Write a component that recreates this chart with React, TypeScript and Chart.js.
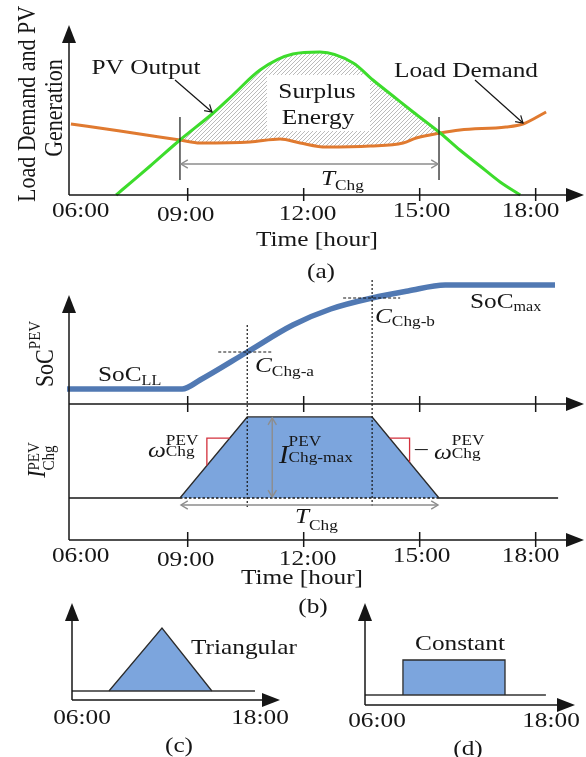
import React, { useEffect, useRef } from 'react';
import { Chart, registerables } from 'chart.js';

Chart.register(...registerables);

const W = 586;
const H = 757;
const SERIF = '"Liberation Serif", "Times New Roman", Times, serif';
const SX = 1.15;
const INK = '#161616';
const GRAY = '#8d8d8d';
const RED = '#d3303c';
const GREEN = '#3ddc2c';
const ORANGE = '#e07a30';
const STEEL = '#5179b3';
const LIGHT_BLUE = '#7ca5dd';

// ---------- data ----------
const TIME_LABELS = ['06:00', '09:00', '12:00', '15:00', '18:00'];
const TIME_HOURS = [6, 9, 12, 15, 18];

const T_CHG_START = 8.8;
const T_CHG_END = 15.5;
const C_CHG_A = 10.54;
const C_CHG_B = 13.77;

// (a) PV output and load demand
const PV_HOURS = [7.15, 7.3, 8.03, 8.8, 9.66, 10.17, 10.87, 11.72, 12.42, 13.28, 13.79, 14.31, 14.83, 15.53, 16.04, 16.56, 17.08, 17.6];
const PV_VALUES = [0, 5, 29, 55, 82, 100, 125, 141, 143, 132, 115, 99, 83, 62, 45, 29, 13, 0];
const LOAD_HOURS = [5.98, 7.25, 8.8, 9.32, 10.61, 11.39, 11.91, 12.58, 13.72, 14.57, 14.91, 15.53, 16.04, 17.23, 17.67, 18.27];
const LOAD_VALUES = [71, 64, 55, 52, 53, 56, 52, 48, 49, 52, 57, 62, 65, 68, 71, 83];

// (b) state of charge and charging current
const SOC_HOURS = [5.88, 8.86, 9.32, C_CHG_A, 11.72, 12.7, C_CHG_B, 14.7, 15.66, 18.5];
const SOC_VALUES = [15, 15, 24, 52, 79, 95, 106, 113, 119, 119];
const I_HOURS = [T_CHG_START, C_CHG_A, C_CHG_B, T_CHG_END];
const I_VALUES = [0, 1, 1, 0];
const I_BASE_HOURS = [5.93, T_CHG_START, T_CHG_END, 18.58];
const I_BASE_VALUES = [0, 0, 0, 0];

// (c) triangular profile
const TRI_HOURS = [8.4, 11.84, 15.08];
const TRI_VALUES = [0, 1, 0];
const TRI_BASE_HOURS = [6, 17.88];
const TRI_BASE_VALUES = [0, 0];

// (d) constant profile
const CONST_HOURS = [8.44, 8.44, 15.0, 15.0];
const CONST_VALUES = [0, 1, 1, 0];
const CONST_BASE_HOURS = [6, 17.63];
const CONST_BASE_VALUES = [0, 0];

// ---------- drawing helpers ----------
const LABEL_DX = [9, -2, 4, 2, -5];
const LABEL_DY = [0, 4, 3, 0, 0];

type Part = { t: string; s?: number; i?: boolean; dy?: number; hold?: boolean };

function fnt(size: number, italic?: boolean) {
  return `${italic ? 'italic ' : ''}${size}px ${SERIF}`;
}

function rich(ctx: CanvasRenderingContext2D, parts: Part[], x: number, y: number, align = 'left', rot = 0) {
  ctx.save();
  ctx.translate(x, y);
  ctx.scale(SX, 1);
  if (rot) ctx.rotate(rot);
  ctx.fillStyle = INK;
  ctx.textAlign = 'left';
  ctx.textBaseline = 'alphabetic';
  const xs: number[] = [];
  let cx = 0;
  let holdX = -1;
  let holdW = 0;
  for (const p of parts) {
    ctx.font = fnt(p.s ?? 22, p.i);
    const w = ctx.measureText(p.t).width;
    if (holdX >= 0) {
      xs.push(holdX);
      cx = holdX + Math.max(holdW, w);
      holdX = -1;
    } else {
      xs.push(cx);
      if (p.hold) {
        holdX = cx;
        holdW = w;
      } else cx += w;
    }
  }
  const off = align === 'center' ? -cx / 2 : align === 'right' ? -cx : 0;
  parts.forEach((p, k) => {
    ctx.font = fnt(p.s ?? 22, p.i);
    ctx.fillText(p.t, xs[k] + off, p.dy ?? 0);
  });
  ctx.restore();
}

function text(ctx: CanvasRenderingContext2D, t: string, x: number, y: number, align = 'center', size = 22) {
  rich(ctx, [{ t, s: size }], x, y, align);
}

function seg(ctx: CanvasRenderingContext2D, x1: number, y1: number, x2: number, y2: number) {
  ctx.beginPath();
  ctx.moveTo(x1, y1);
  ctx.lineTo(x2, y2);
  ctx.stroke();
}

function solidHead(ctx: CanvasRenderingContext2D, tx: number, ty: number, dir: 'up' | 'right', len = 18, half = 7) {
  ctx.beginPath();
  if (dir === 'up') {
    ctx.moveTo(tx, ty);
    ctx.lineTo(tx - half, ty + len);
    ctx.lineTo(tx + half, ty + len);
  } else {
    ctx.moveTo(tx, ty);
    ctx.lineTo(tx - len, ty - half);
    ctx.lineTo(tx - len, ty + half);
  }
  ctx.closePath();
  ctx.fill();
}

function openHead(ctx: CanvasRenderingContext2D, tx: number, ty: number, ang: number, size = 8, spread = 0.55) {
  ctx.beginPath();
  ctx.moveTo(tx - size * Math.cos(ang - spread), ty - size * Math.sin(ang - spread));
  ctx.lineTo(tx, ty);
  ctx.lineTo(tx - size * Math.cos(ang + spread), ty - size * Math.sin(ang + spread));
  ctx.stroke();
}

function axes(ctx: CanvasRenderingContext2D, x0: number, y0: number, topY: number, rightX: number) {
  ctx.save();
  ctx.strokeStyle = INK;
  ctx.fillStyle = INK;
  ctx.lineWidth = 1.5;
  seg(ctx, x0, y0, x0, topY + 14);
  solidHead(ctx, x0, topY, 'up');
  seg(ctx, x0, y0, rightX - 14, y0);
  solidHead(ctx, rightX, y0, 'right');
  ctx.restore();
}

function tickMarks(ctx: CanvasRenderingContext2D, x: any, yy: number, up: number, down: number) {
  ctx.save();
  ctx.strokeStyle = INK;
  ctx.lineWidth = 1.5;
  TIME_HOURS.forEach((h) => {
    if (h > 6) {
      const px = x.getPixelForValue(h);
      seg(ctx, px, yy - up, px, yy + down);
    }
  });
  ctx.restore();
}

function tickLabels(ctx: CanvasRenderingContext2D, x: any, base: number) {
  TIME_LABELS.forEach((l, k) => {
    text(ctx, l, x.getPixelForValue(TIME_HOURS[k]) + LABEL_DX[k], base + LABEL_DY[k]);
  });
}

function pts(hs: number[], vs: number[]) {
  return hs.map((h, k) => ({ x: h, y: vs[k] }));
}

function build(canvas: HTMLCanvasElement, area: number[], xr: number[], yr: number[], datasets: any[], plugin: any) {
  return new Chart(canvas, {
    type: 'line',
    data: { datasets },
    options: {
      responsive: false,
      animation: false,
      devicePixelRatio: 1,
      events: [],
      layout: { padding: { left: area[0], top: area[1], right: W - area[2], bottom: H - area[3] } },
      plugins: {
        legend: { display: false },
        tooltip: { enabled: false },
        filler: { drawTime: 'beforeDatasetsDraw' },
      } as any,
      scales: {
        x: { type: 'linear', display: false, min: xr[0], max: xr[1] },
        y: { type: 'linear', display: false, min: yr[0], max: yr[1] },
      },
      elements: { point: { radius: 0 }, line: { tension: 0 } },
    },
    plugins: [plugin],
  } as any);
}

// ---------- panel plugins ----------
const pluginA = {
  id: 'panelA',
  beforeDatasetsDraw(chart: any) {
    const c = chart.ctx;
    c.save();
    c.fillStyle = '#fff';
    c.fillRect(267, 75, 103, 56);
    c.restore();
  },
  afterDatasetsDraw(chart: any) {
    const c: CanvasRenderingContext2D = chart.ctx;
    const a = chart.chartArea;
    const x = chart.scales.x;
    axes(c, a.left, a.bottom, a.top, a.right);
    tickMarks(c, x, a.bottom, 7, 6);
    const xs = x.getPixelForValue(T_CHG_START);
    const xe = x.getPixelForValue(T_CHG_END);
    c.save();
    c.strokeStyle = INK;
    c.lineWidth = 1.2;
    seg(c, xs, 117, xs, 180);
    seg(c, xe, 117, xe, 180);
    c.strokeStyle = GRAY;
    c.lineWidth = 1.4;
    seg(c, xs + 1, 164, xe - 1, 164);
    openHead(c, xs + 1, 164, Math.PI);
    openHead(c, xe - 1, 164, 0);
    c.strokeStyle = INK;
    c.lineWidth = 1.2;
    seg(c, 175, 80, 212, 112);
    openHead(c, 212, 112, Math.atan2(32, 37));
    seg(c, 475, 80, 523, 123);
    openHead(c, 523, 123, Math.atan2(43, 48));
    c.restore();

    rich(c, [{ t: 'Load Demand and PV' }], 35, 104, 'center', -Math.PI / 2);
    rich(c, [{ t: 'Generation' }], 62, 108, 'center', -Math.PI / 2);
    text(c, 'PV Output', 146, 74);
    text(c, 'Load Demand', 466, 77);
    text(c, 'Surplus', 317, 98);
    text(c, 'Energy', 318, 124);
    rich(c, [{ t: 'T', i: true }, { t: 'Chg', s: 15, dy: 5 }], 321, 185);
    tickLabels(c, x, 217);
    text(c, 'Time [hour]', 317, 246);
    text(c, '(a)', 321, 278);
  },
};

const pluginS = {
  id: 'panelS',
  afterDatasetsDraw(chart: any) {
    const c: CanvasRenderingContext2D = chart.ctx;
    const a = chart.chartArea;
    const x = chart.scales.x;
    const y = chart.scales.y;
    c.save();
    c.strokeStyle = INK;
    c.fillStyle = INK;
    c.lineWidth = 1.5;
    seg(c, a.left, a.bottom, a.right - 14, a.bottom);
    solidHead(c, a.right, a.bottom, 'right');
    c.restore();
    tickMarks(c, x, a.bottom, 8, 8);

    const ia = SOC_HOURS.indexOf(C_CHG_A);
    const ib = SOC_HOURS.indexOf(C_CHG_B);
    const ax = x.getPixelForValue(C_CHG_A);
    const ay = y.getPixelForValue(SOC_VALUES[ia]);
    const bx = x.getPixelForValue(C_CHG_B);
    const by = y.getPixelForValue(SOC_VALUES[ib]);
    c.save();
    c.strokeStyle = INK;
    c.lineWidth = 1.1;
    c.setLineDash([3, 2]);
    seg(c, ax - 29, ay, ax + 25, ay);
    seg(c, bx - 29, by, bx + 28, by);
    c.restore();

    rich(c, [{ t: 'SoC' }, { t: 'LL', s: 14, dy: 4 }], 98, 381);
    rich(c, [{ t: 'SoC' }, { t: 'max', s: 14, dy: 3 }], 470, 308);
    rich(c, [{ t: 'C', i: true }, { t: 'Chg-a', s: 15, dy: 4 }], 255, 372);
    rich(c, [{ t: 'C', i: true }, { t: 'Chg-b', s: 15, dy: 3 }], 375, 323);
    rich(c, [{ t: 'SoC' }, { t: 'PEV', s: 15, dy: -11 }], 53, 354, 'center', -Math.PI / 2);
  },
};

const pluginI = {
  id: 'panelI',
  afterDatasetsDraw(chart: any) {
    const c: CanvasRenderingContext2D = chart.ctx;
    const a = chart.chartArea;
    const x = chart.scales.x;
    const y = chart.scales.y;
    axes(c, a.left, a.bottom, 295, a.right);
    tickMarks(c, x, a.bottom, 8, 7);

    const xa = x.getPixelForValue(C_CHG_A);
    const xb = x.getPixelForValue(C_CHG_B);
    const x0 = x.getPixelForValue(T_CHG_START);
    const x1 = x.getPixelForValue(T_CHG_END);
    const y0 = y.getPixelForValue(0);
    const y1 = y.getPixelForValue(1);

    c.save();
    c.strokeStyle = INK;
    c.lineWidth = 1.2;
    c.setLineDash([2, 2]);
    seg(c, xa, 325, xa, 507);
    seg(c, xb, 280, xb, 507);
    c.setLineDash([]);

    // gray dimension arrows
    c.strokeStyle = GRAY;
    c.lineWidth = 1.4;
    const gx = xa + 25;
    seg(c, gx, y1 + 1, gx, y0 - 1);
    openHead(c, gx, y1 + 1, -Math.PI / 2);
    openHead(c, gx, y0 - 1, Math.PI / 2);
    seg(c, x0 + 1, 505, x1 - 1, 505);
    openHead(c, x0 + 1, 505, Math.PI);
    openHead(c, x1 - 1, 505, 0);

    // red slope markers
    c.strokeStyle = RED;
    c.lineWidth = 1.3;
    const ldx = xa - x0;
    const ldy = y1 - y0;
    const lcx = x0 + 0.4 * ldx;
    const lcy = y0 + 0.74 * ldy;
    c.beginPath();
    c.moveTo(x0 + 0.74 * ldx, lcy);
    c.lineTo(lcx, lcy);
    c.lineTo(lcx, y0 + 0.4 * ldy);
    c.stroke();
    const rdx = x1 - xb;
    const rdy = y0 - y1;
    const rcx = xb + 0.56 * rdx;
    const rcy = y1 + 0.26 * rdy;
    c.beginPath();
    c.moveTo(xb + 0.26 * rdx, rcy);
    c.lineTo(rcx, rcy);
    c.lineTo(rcx, y1 + 0.56 * rdy);
    c.stroke();
    c.restore();

    rich(c, [{ t: 'ω', i: true }, { t: 'PEV', s: 15, dy: -12, hold: true }, { t: 'Chg', s: 15, dy: -1 }], 148, 457);
    rich(c, [{ t: '–', dy: -4 }, { t: ' ' }, { t: 'ω', i: true }, { t: 'PEV', s: 15, dy: -14, hold: true }, { t: 'Chg', s: 15, dy: -1 }], 415, 459);
    rich(c, [{ t: 'I', i: true, s: 25 }, { t: 'PEV', s: 15, dy: -17, hold: true }, { t: 'Chg-max', s: 15, dy: -1 }], 279, 463);
    rich(c, [{ t: 'T', i: true }, { t: 'Chg', s: 15, dy: 7 }], 295, 523);
    rich(c, [{ t: 'I', i: true }, { t: 'PEV', s: 15, dy: -5, hold: true }, { t: 'Chg', s: 15, dy: 8 }], 45, 460, 'center', -Math.PI / 2);
    tickLabels(c, x, 562);
    text(c, 'Time [hour]', 302, 584);
    text(c, '(b)', 313, 613);
  },
};

const pluginC = {
  id: 'panelC',
  afterDatasetsDraw(chart: any) {
    const c: CanvasRenderingContext2D = chart.ctx;
    const a = chart.chartArea;
    axes(c, a.left, a.bottom, a.top, a.right);
    text(c, '06:00', 82, 724);
    text(c, '18:00', 260, 724);
    text(c, 'Triangular', 244, 654);
    text(c, '(c)', 179, 752);
  },
};

const pluginD = {
  id: 'panelD',
  afterDatasetsDraw(chart: any) {
    const c: CanvasRenderingContext2D = chart.ctx;
    const a = chart.chartArea;
    axes(c, a.left, a.bottom, a.top, a.right);
    text(c, '06:00', 377, 727);
    text(c, '18:00', 551, 727);
    text(c, 'Constant', 460, 650);
    text(c, '(d)', 468, 755);
  },
};

function hatchPattern(ctx: CanvasRenderingContext2D) {
  const pc = document.createElement('canvas');
  pc.width = 4;
  pc.height = 4;
  const g = pc.getContext('2d') as CanvasRenderingContext2D;
  g.strokeStyle = '#a9a9a9';
  g.lineWidth = 0.8;
  g.beginPath();
  g.moveTo(0, 4);
  g.lineTo(4, 0);
  g.moveTo(-1, 1);
  g.lineTo(1, -1);
  g.moveTo(3, 5);
  g.lineTo(5, 3);
  g.stroke();
  return ctx.createPattern(pc, 'repeat');
}

export default function App() {
  const refA = useRef<HTMLCanvasElement>(null);
  const refS = useRef<HTMLCanvasElement>(null);
  const refI = useRef<HTMLCanvasElement>(null);
  const refC = useRef<HTMLCanvasElement>(null);
  const refD = useRef<HTMLCanvasElement>(null);

  useEffect(() => {
    const cA = refA.current as HTMLCanvasElement;
    const pattern = hatchPattern(cA.getContext('2d') as CanvasRenderingContext2D);
    const charts: Chart[] = [];

    charts.push(
      build(cA, [69, 25, 584, 195], [5.93, 19.25], [0, 170], [
        {
          data: pts(PV_HOURS, PV_VALUES),
          borderColor: GREEN,
          borderWidth: 3,
          cubicInterpolationMode: 'monotone',
          fill: { target: 1, above: pattern, below: 'rgba(0,0,0,0)' },
          clip: false,
        },
        {
          data: pts(LOAD_HOURS, LOAD_VALUES),
          borderColor: ORANGE,
          borderWidth: 3,
          cubicInterpolationMode: 'monotone',
          fill: false,
          clip: false,
        },
      ], pluginA)
    );

    charts.push(
      build(refS.current as HTMLCanvasElement, [69, 270, 584, 404], [5.93, 19.25], [0, 134], [
        {
          data: pts(SOC_HOURS, SOC_VALUES),
          borderColor: STEEL,
          borderWidth: 5.5,
          cubicInterpolationMode: 'monotone',
          borderJoinStyle: 'round',
          fill: false,
          clip: false,
        },
      ], pluginS)
    );

    charts.push(
      build(refI.current as HTMLCanvasElement, [69, 404, 584, 540], [5.93, 19.25], [-0.5185, 1.16], [
        {
          data: pts(I_HOURS, I_VALUES),
          borderColor: '#2b2b2b',
          borderWidth: 1.3,
          backgroundColor: LIGHT_BLUE,
          fill: 'origin',
          clip: false,
        },
        {
          data: pts(I_BASE_HOURS, I_BASE_VALUES),
          borderColor: INK,
          borderWidth: 1.3,
          fill: false,
          clip: false,
          segment: { borderDash: (ctx: any) => (ctx.p0DataIndex === 1 ? [2.5, 2] : undefined) },
        },
      ], pluginI)
    );

    charts.push(
      build(refC.current as HTMLCanvasElement, [72, 603, 280, 700], [6, 19.5], [-0.143, 1.397], [
        {
          data: pts(TRI_HOURS, TRI_VALUES),
          borderColor: '#2b2b2b',
          borderWidth: 1.3,
          backgroundColor: LIGHT_BLUE,
          fill: 'origin',
          clip: false,
        },
        {
          data: pts(TRI_BASE_HOURS, TRI_BASE_VALUES),
          borderColor: '#333',
          borderWidth: 1.4,
          fill: false,
          clip: false,
        },
      ], pluginC)
    );

    charts.push(
      build(refD.current as HTMLCanvasElement, [365, 603, 575, 705], [6, 19.5], [-0.286, 2.629], [
        {
          data: pts(CONST_HOURS, CONST_VALUES),
          borderColor: '#2b2b2b',
          borderWidth: 1.3,
          backgroundColor: LIGHT_BLUE,
          fill: 'origin',
          clip: false,
        },
        {
          data: pts(CONST_BASE_HOURS, CONST_BASE_VALUES),
          borderColor: '#333',
          borderWidth: 1.4,
          fill: false,
          clip: false,
        },
      ], pluginD)
    );

    return () => charts.forEach((ch) => ch.destroy());
  }, []);

  const cs: React.CSSProperties = { position: 'absolute', left: 0, top: 0, width: W, height: H };
  return (
    <div style={{ position: 'absolute', left: 0, top: 0, width: W, height: H, background: '#fff', overflow: 'hidden' }}>
      <canvas ref={refA} width={W} height={H} style={cs} />
      <canvas ref={refS} width={W} height={H} style={cs} />
      <canvas ref={refI} width={W} height={H} style={cs} />
      <canvas ref={refC} width={W} height={H} style={cs} />
      <canvas ref={refD} width={W} height={H} style={cs} />
    </div>
  );
}
